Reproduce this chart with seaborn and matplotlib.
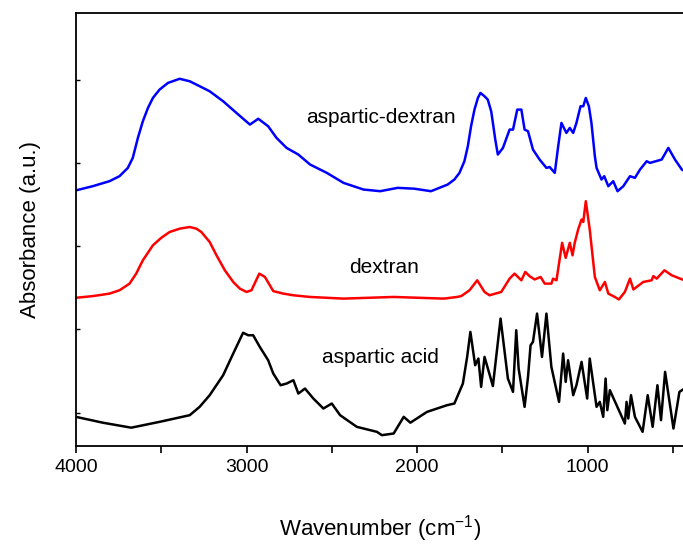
import matplotlib
matplotlib.use("Agg")
import matplotlib.pyplot as plt
import seaborn as sns
import pandas as pd
from matplotlib.ticker import MultipleLocator, FixedLocator

# ---- data (wavenumber in cm-1, absorbance in a.u., offset) ----
blue_wn = [4000, 3902, 3804, 3745, 3696, 3667, 3637, 3608, 3578, 3549,
           3510, 3461, 3392, 3333, 3274, 3216, 3137, 3059, 2980, 2931,
           2873, 2824, 2765, 2696, 2627, 2529, 2431, 2314, 2216, 2114,
           2016, 1918, 1820, 1781, 1751, 1722, 1702, 1683, 1663, 1643,
           1628, 1604, 1585, 1565, 1555, 1541, 1526, 1496,
           1457, 1437, 1412, 1388, 1369, 1349, 1320, 1281, 1241, 1222,
           1192, 1172, 1153, 1124, 1104, 1084, 1065, 1041, 1025, 1010,
           992, 977, 967, 957, 947, 918, 902, 878, 849, 824, 790, 751,
           722, 692, 653, 634, 565, 526, 487, 447, 428]
blue_abs = [2.67, 2.72, 2.78, 2.84, 2.94, 3.06, 3.30, 3.50, 3.66, 3.78,
            3.88, 3.96, 4.01, 3.98, 3.92, 3.86, 3.74, 3.60, 3.46, 3.53,
            3.44, 3.30, 3.18, 3.10, 2.98, 2.88, 2.76, 2.68, 2.66, 2.70,
            2.69, 2.66, 2.74, 2.80, 2.88, 3.02, 3.20, 3.44, 3.64, 3.78,
            3.84, 3.80, 3.76, 3.62, 3.48, 3.28, 3.10, 3.18,
            3.40, 3.40, 3.64, 3.64, 3.40, 3.38, 3.16, 3.04, 2.94, 2.95,
            2.88, 3.20, 3.48, 3.36, 3.42, 3.36, 3.48, 3.68, 3.68, 3.78,
            3.68, 3.48, 3.28, 3.08, 2.94, 2.80, 2.84, 2.72, 2.78, 2.66, 2.72, 2.84,
            2.82, 2.92, 3.02, 3.00, 3.04, 3.18, 3.04, 2.92, 2.90]

red_wn = [4000, 3902, 3804, 3745, 3686, 3647, 3608, 3549, 3500, 3451,
          3392, 3333, 3294, 3265, 3216, 3176, 3127, 3078, 3039, 3000,
          2971, 2925, 2892, 2843, 2784, 2725, 2628, 2431, 2137, 1843, 1765,
          1741, 1692, 1647, 1604, 1575, 1506, 1457, 1428, 1388, 1365,
          1340, 1310, 1275, 1251, 1212, 1202, 1182, 1149, 1128, 1104,
          1088, 1075, 1055, 1035, 1025, 1010, 987, 957, 928, 898,
          878, 840, 816, 781, 751, 731, 673, 624, 614, 594,
          549, 506, 457, 431]
red_abs = [1.38, 1.40, 1.43, 1.47, 1.55, 1.67, 1.83, 2.01, 2.10, 2.17,
           2.21, 2.23, 2.21, 2.17, 2.05, 1.89, 1.71, 1.57, 1.49, 1.45,
           1.47, 1.67, 1.63, 1.46, 1.43, 1.41, 1.39, 1.37, 1.39, 1.37, 1.39,
           1.40, 1.47, 1.59, 1.45, 1.41, 1.45, 1.61, 1.67, 1.59, 1.69,
           1.64, 1.60, 1.63, 1.55, 1.55, 1.61, 1.59, 2.04, 1.86, 2.04,
           1.89, 2.04, 2.20, 2.32, 2.29, 2.54, 2.20, 1.63, 1.47, 1.57,
           1.43, 1.39, 1.36, 1.45, 1.61, 1.48, 1.57, 1.59, 1.64, 1.61,
           1.71, 1.65, 1.61, 1.59]

black_wn = [4000, 3843, 3676, 3510, 3333, 3275, 3216, 3137, 3078, 3020,
            2990, 2961, 2922, 2873, 2843, 2800, 2765, 2725, 2696, 2657,
            2608, 2549, 2500, 2451, 2353, 2235, 2206, 2137, 2078, 2039,
            1941, 1824, 1781, 1731, 1706, 1687,
            1659, 1640, 1624, 1604, 1555, 1510, 1467, 1437, 1418, 1404,
            1369, 1349, 1334, 1320, 1296, 1267, 1241, 1212, 1167, 1143,
            1128, 1114, 1084, 1065, 1035, 1002, 987, 947, 928, 908,
            894, 884, 869, 781, 771, 761, 745, 722, 677, 647,
            618, 590, 569, 545, 496, 461, 431]
black_abs = [-0.05, -0.12, -0.18, -0.11, -0.03, 0.07, 0.21, 0.45, 0.71, 0.96,
             0.93, 0.93, 0.79, 0.63, 0.47, 0.33, 0.35, 0.39, 0.23, 0.29,
             0.17, 0.05, 0.11, -0.03, -0.17, -0.23, -0.27, -0.25, -0.05, -0.12,
             0.01, 0.09, 0.11, 0.35, 0.67, 0.97,
             0.57, 0.65, 0.31, 0.67, 0.32, 1.13, 0.41, 0.25, 0.99, 0.53,
             0.07, 0.43, 0.81, 0.85, 1.19, 0.67, 1.19, 0.55, 0.13, 0.71,
             0.37, 0.63, 0.21, 0.33, 0.61, 0.17, 0.65, 0.07, 0.13, -0.05,
             0.41, 0.03, 0.27, -0.13, 0.13, -0.07, 0.21, -0.05, -0.23, 0.21,
             -0.17, 0.33, -0.09, 0.49, -0.19, 0.25, 0.29]

series_names = ["aspartic-dextran", "dextran", "aspartic acid"]
series_colors = ["#0000ff", "#ff0000", "#000000"]
label_wn = [2212, 2194, 2212]
label_abs = [3.54, 1.74, 0.66]

x_major = [4000, 3000, 2000, 1000]
y_ticks = [0, 1, 2, 3, 4]

# ---- styling ----
sns.set_style("ticks")
plt.rcParams['font.family'] = ['Liberation Sans', 'DejaVu Sans']
plt.rcParams['mathtext.fontset'] = 'custom'
plt.rcParams['mathtext.rm'] = 'Liberation Sans'
plt.rcParams['mathtext.it'] = 'Liberation Sans'
plt.rcParams['text.color'] = 'black'
plt.rcParams['axes.labelcolor'] = 'black'

fig = plt.figure(figsize=(6.83, 5.51), dpi=100)
ax = fig.add_axes([76 / 683, 105 / 551, 1 - 76 / 683 + 0.003, 433 / 551])

data = [(blue_wn, blue_abs), (red_wn, red_abs), (black_wn, black_abs)]
for (wn, ab), name, col in zip(data, series_names, series_colors):
    df = pd.DataFrame({"wn": wn, "abs": ab})
    sns.lineplot(data=df, x="wn", y="abs", color=col, linewidth=1.8,
                 estimator=None, ax=ax)

for name, xw, ya in zip(series_names, label_wn, label_abs):
    ax.text(xw, ya, name, fontsize=15, ha="center", va="center", color="black")

ax.set_xlim(4000, 428)
ax.set_ylim(-0.4, 4.8)
ax.xaxis.set_major_locator(FixedLocator(x_major))
ax.xaxis.set_minor_locator(MultipleLocator(500))
ax.set_xticklabels([str(v) for v in x_major])
ax.set_yticks(y_ticks)
ax.set_yticklabels([])
ax.tick_params(axis="x", which="both", direction="out", length=5, width=1.2,
               labelsize=14, pad=4, colors="black")
ax.tick_params(axis="y", which="both", direction="in", length=3, width=1.0,
               colors="black")
for s in ["left", "bottom", "top"]:
    ax.spines[s].set_linewidth(1.3)
    ax.spines[s].set_color("black")
ax.spines["right"].set_visible(False)

ax.set_xlabel(r"Wavenumber (cm$^{-1}$)", fontsize=16, labelpad=27, color="black")
ax.set_ylabel("Absorbance (a.u.)", fontsize=16, labelpad=22, color="black")

fig.savefig("out.png", dpi=100)
